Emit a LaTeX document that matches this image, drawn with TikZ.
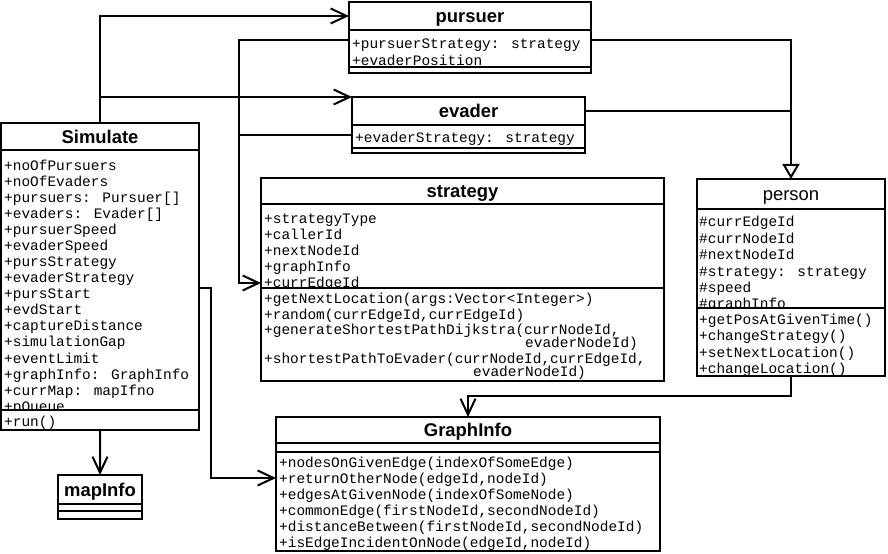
\documentclass[tikz,border=0pt]{standalone}
\usepackage{fontspec}
\setmainfont{Liberation Sans}
\newfontfamily\umlmono{Liberation Mono}
\usetikzlibrary{arrows.meta,positioning}
\tikzset{
  clsT/.style={draw, line width=2bp, outer sep=0pt, inner sep=0pt, anchor=north west, fill=white,
    text height=13.3pt, text depth=0pt, font=\fontsize{18.5}{20}\selectfont\bfseries},
  clsC/.style={draw, line width=2bp, outer sep=0pt, inner sep=0pt, fill=white},
  mem/.style={anchor=base west, inner sep=0pt, font=\umlmono\fontsize{14.5}{16}\selectfont},
  assoc/.style={line width=2bp, -{Straight Barb[length=16bp,width=15bp]}},
  inh/.style={line width=2bp, -{Triangle[length=15bp,width=17bp,fill=white]}},
  link/.style={line width=2bp},
}
\begin{document}
\begin{tikzpicture}[x=1bp, y=-1bp]
\useasboundingbox (0,0) rectangle (888,554);
\node[clsT, minimum width=198bp, minimum height=27bp] (simT) at (1,123) {Simulate};
\node[clsC, minimum width=198bp, minimum height=260bp, below=0pt of simT] (simA) {};
\foreach \t [count=\i from 0] in {+noOfPursuers, +noOfEvaders, +pursuers: Pursuer[], +evaders: Evader[],
  +pursuerSpeed, +evaderSpeed, +pursStrategy, +evaderStrategy, +pursStart, +evdStart, +captureDistance,
  +simulationGap, +eventLimit, +graphInfo: GraphInfo, +currMap: mapIfno, +pQueue}
  \node[mem] (simA-\i) at (4,171+16*\i) {\t};
\node[clsC, minimum width=198bp, minimum height=20bp, below=0pt of simA] (simM) {};
\node[mem] (simM-0) at (4,426) {+run()};
\node[clsT, minimum width=84bp, minimum height=29bp] (mapT) at (58,475) {mapInfo};
\node[clsC, minimum width=84bp, minimum height=7bp, below=0pt of mapT] (mapA) {};
\node[clsC, minimum width=84bp, minimum height=8bp, below=0pt of mapA] (mapM) {};
\node[clsT, minimum width=242bp, minimum height=28bp] (purT) at (349,2) {pursuer};
\node[clsC, minimum width=242bp, minimum height=37bp, below=0pt of purT] (purA) {};
\node[mem] (purA-0) at (352,49) {+pursuerStrategy: strategy};
\node[mem] (purA-1) at (352,66) {+evaderPosition};
\node[clsC, minimum width=242bp, minimum height=6bp, below=0pt of purA] (purM) {};
\node[clsT, minimum width=233bp, minimum height=28bp] (evaT) at (352,97) {evader};
\node[clsC, minimum width=233bp, minimum height=23bp, below=0pt of evaT] (evaA) {};
\node[mem] (evaA-0) at (355,143) {+evaderStrategy: strategy};
\node[clsC, minimum width=233bp, minimum height=5bp, below=0pt of evaA] (evaM) {};
\node[clsT, minimum width=403bp, minimum height=26bp] (strT) at (261,178) {strategy};
\node[clsC, minimum width=403bp, minimum height=84bp, below=0pt of strT] (strA) {};
\foreach \t [count=\i from 0] in {+strategyType, +callerId, +nextNodeId, +graphInfo, +currEdgeId}
  \node[mem] (strA-\i) at (264,224+16*\i) {\t};
\node[clsC, minimum width=403bp, minimum height=93bp, below=0pt of strA] (strM) {};
\foreach \x/\y/\t [count=\i] in {264/304/{+getNextLocation(args:Vector<Integer>)},
  264/320/{+random(currEdgeId,currEdgeId)}, 264/335/{+generateShortestPathDijkstra(currNodeId,},
  525/348/{evaderNodeId)}, 264/363/{+shortestPathToEvader(currNodeId,currEdgeId,}, 473/376/{evaderNodeId)}}
  \node[mem] (strM-\i) at (\x,\y) {\t};
\node[clsT, font=\fontsize{18.5}{20}\selectfont, minimum width=188bp, minimum height=30bp] (perT) at (697,179) {person};
\node[clsC, minimum width=188bp, minimum height=99bp, below=0pt of perT] (perA) {};
\foreach \t [count=\i from 0] in {\#currEdgeId, \#currNodeId, \#nextNodeId, \#strategy: strategy, \#speed, \#graphInfo}
  \node[mem] (perA-\i) at (699,227+16.4*\i) {\t};
\node[clsC, minimum width=188bp, minimum height=68bp, below=0pt of perA] (perM) {};
\foreach \t [count=\i from 0] in {+getPosAtGivenTime(), +changeStrategy(), +setNextLocation(), +changeLocation()}
  \node[mem] (perM-\i) at (699,325+16*\i) {\t};
\node[clsT, minimum width=384bp, minimum height=26bp] (graT) at (276,417) {GraphInfo};
\node[clsC, minimum width=384bp, minimum height=9bp, below=0pt of graT] (graA) {};
\node[clsC, minimum width=384bp, minimum height=99bp, below=0pt of graA] (graM) {};
\foreach \t [count=\i from 0] in {+nodesOnGivenEdge(indexOfSomeEdge), {+returnOtherNode(edgeId,nodeId)},
  +edgesAtGivenNode(indexOfSomeNode), {+commonEdge(firstNodeId,secondNodeId)},
  {+distanceBetween(firstNodeId,secondNodeId)}, {+isEdgeIncidentOnNode(edgeId,nodeId)}}
  \node[mem] (graM-\i) at (279,467+16*\i) {\t};
\draw[assoc] (simT.north) |- (purT.west);
\draw[assoc] (simT.north |- evaT.north west) -- (evaT.north west);
\draw[link] ([yshift=-10bp]evaA.north west) -| ([xshift=-22bp]strA.north west);
\draw[assoc] ([yshift=-10bp]purA.north west) -| ([xshift=-22bp,yshift=5bp]strA.south west) -- ([yshift=5bp]strA.south west);
\draw[link] (evaT.east) -| (perT.north);
\draw[inh] ([yshift=-10bp]purA.north east) -| (perT.north);
\draw[assoc] ([yshift=-138bp]simA.north east) -- ++(12,0) |- ([yshift=-26bp]graM.north west);
\draw[assoc] (simM.south) -- (mapT.north);
\draw[assoc] (perM.south) -- ++(0,20) -| (graT.north);
\end{tikzpicture}
\end{document}
